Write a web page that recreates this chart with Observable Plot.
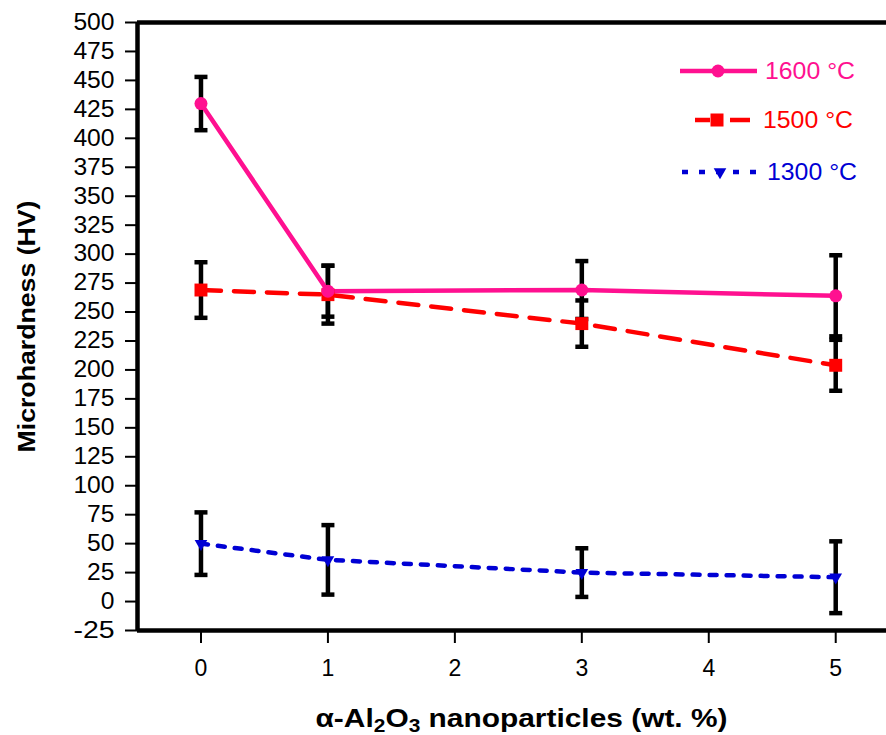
<!DOCTYPE html>
<html>
<head>
<meta charset="utf-8">
<script src="https://cdn.jsdelivr.net/npm/d3@7"></script>
<script src="https://cdn.jsdelivr.net/npm/@observablehq/plot@0.6"></script>
<style>
  body { margin: 0; background: #fff; }
  #chart svg { display: block; }
</style>
</head>
<body>
<div id="chart"></div>
<script>
// ---- data ----
const wtPercent = [0, 1, 3, 5];
const hv1600 = [430, 268, 269, 264];
const err1600 = [23, 22, 25, 35];
const hv1500 = [269, 265, 240, 204];
const err1500 = [24, 25, 20, 22];
const hv1300 = [50, 36, 25, 21];
const err1300 = [27, 30, 21, 31];
const seriesNames = ["1600 °C", "1500 °C", "1300 °C"];
const yTicks = [-25, 0, 25, 50, 75, 100, 125, 150, 175, 200, 225, 250, 275, 300, 325, 350, 375, 400, 425, 450, 475, 500];
const xTicks = [0, 1, 2, 3, 4, 5];
const yTitle = "Microhardness (HV)";
const xTitle = "α-Al2O3 nanoparticles (wt. %)";

// ---- styles ----
const colors = ["#ff1090", "#ff0000", "#0000d4"];
const dashes = [null, "20 13", "7 10"];
const font = "'Liberation Sans', Arial, Helvetica, sans-serif";

function rows(vals, errs, name) {
  return wtPercent.map((x, i) => ({x, y: vals[i], lo: vals[i] - errs[i], hi: vals[i] + errs[i], name}));
}
const s1600 = rows(hv1600, err1600, seriesNames[0]);
const s1500 = rows(hv1500, err1500, seriesNames[1]);
const s1300 = rows(hv1300, err1300, seriesNames[2]);
const all = [...s1600, ...s1500, ...s1300];

const capSymbol = {
  draw(context, size) {
    const r = Math.sqrt(size / Math.PI);
    context.moveTo(-r, 0);
    context.lineTo(r, 0);
  }
};

const plot = Plot.plot({
  width: 886,
  height: 735,
  marginLeft: 137,
  marginRight: 0,
  marginTop: 22,
  marginBottom: 105,
  style: {fontFamily: font, background: "#fff", overflow: "visible"},
  x: {domain: [-0.5, 5.4]},
  y: {domain: [-25, 500]},
  marks: [
    Plot.axisY({ticks: yTicks, tickFormat: d => String(d), tickSize: 12, tickPadding: 11, strokeWidth: 2, fontSize: 23, label: null, fill: "#000", className: "yaxis"}),
    Plot.axisX({ticks: xTicks, tickFormat: d => String(d), tickSize: 13, tickPadding: 16, strokeWidth: 2, fontSize: 23, label: null, fill: "#000"}),
    // error bars
    Plot.ruleX(all, {x: "x", y1: "lo", y2: "hi", stroke: "#000", strokeWidth: 4.5}),
    Plot.dot(all, {x: "x", y: "lo", symbol: capSymbol, r: 6.5, stroke: "#000", strokeWidth: 4.5}),
    Plot.dot(all, {x: "x", y: "hi", symbol: capSymbol, r: 6.5, stroke: "#000", strokeWidth: 4.5}),
    // series lines
    Plot.line(s1300, {x: "x", y: "y", stroke: colors[2], strokeWidth: 4.5, strokeDasharray: dashes[2]}),
    Plot.line(s1500, {x: "x", y: "y", stroke: colors[1], strokeWidth: 4.5, strokeDasharray: dashes[1]}),
    Plot.line(s1600, {x: "x", y: "y", stroke: colors[0], strokeWidth: 4.5}),
    // markers
    Plot.dot(s1300, {x: "x", y: "y", symbol: "triangle", rotate: 180, r: 4.7, fill: colors[2]}),
    Plot.dot(s1500, {x: "x", y: "y", symbol: "square", r: 7.3, fill: colors[1]}),
    Plot.dot(s1600, {x: "x", y: "y", symbol: "circle", r: 6.5, fill: colors[0]}),
    // frame lines
    Plot.ruleY([500, -25], {stroke: "#000", strokeWidth: 4.5}),
    Plot.ruleX([-0.5], {stroke: "#000", strokeWidth: 4.5}),
    // axis titles
    Plot.text([yTitle], {frameAnchor: "left", dx: -110, dy: 0, rotate: -90, textAnchor: "middle", fontSize: 24, fontWeight: "bold", fill: "#000", lineAnchor: "middle", className: "ytitle"}),
    Plot.text([xTitle], {frameAnchor: "bottom", dx: 9.5, dy: 88, textAnchor: "middle", fontSize: 25, fontWeight: "bold", fill: "#000", lineAnchor: "middle", className: "xtitle"})
  ]
});

const svg = d3.select(plot);

// y title length matching the reference
svg.selectAll(".ytitle text").attr("textLength", 252).attr("lengthAdjust", "spacingAndGlyphs");

// y tick labels slightly wider, as in the reference
svg.selectAll(".yaxis text").each(function() {
  const n = this.textContent.length;
  d3.select(this).attr("textLength", n * 13.7).attr("lengthAdjust", "spacingAndGlyphs");
});

// x title: subscripts and width matching the reference
svg.selectAll(".xtitle text").each(function() {
  const t = d3.select(this);
  t.text(null);
  const parts = [["α-Al", false], ["2", true], ["O", false], ["3", true], [" nanoparticles (wt. %)", false]];
  for (const [s, sub] of parts) {
    const sp = t.append("tspan").text(s);
    if (sub) sp.attr("font-size", "70%").attr("dy", "0.3em");
    else sp.attr("dy", sp.node().previousSibling ? "-0.21em" : null);
  }
  t.attr("textLength", 412).attr("lengthAdjust", "spacingAndGlyphs");
});

// legend inside the plot area (top right)
const legend = svg.append("g").attr("font-family", font).attr("font-size", 23).attr("text-anchor", "start");
const legendItems = [
  {name: seriesNames[0], color: colors[0], y: 71, x1: 680, x2: 757, mx: 718, tx: 765, dash: null, sym: "circle"},
  {name: seriesNames[1], color: colors[1], y: 120, x1: 695, x2: 750, mx: 717, tx: 763, dash: "15 20 20", sym: "square"},
  {name: seriesNames[2], color: colors[2], y: 172, x1: 682, x2: 757, mx: 720, tx: 767, dash: "6 11", sym: "tri"}
];
for (const it of legendItems) {
  const line = legend.append("line")
    .attr("x1", it.x1).attr("x2", it.x2).attr("y1", it.y).attr("y2", it.y)
    .attr("stroke", it.color).attr("stroke-width", 4.5);
  if (it.dash) line.attr("stroke-dasharray", it.dash);
  if (it.sym === "circle") {
    legend.append("circle").attr("cx", it.mx).attr("cy", it.y).attr("r", 6.5).attr("fill", it.color);
  } else if (it.sym === "square") {
    legend.append("rect").attr("x", it.mx - 6.5).attr("y", it.y - 6.5).attr("width", 13).attr("height", 13).attr("fill", it.color);
  } else {
    legend.append("path")
      .attr("d", d3.symbol(d3.symbolTriangle, Math.PI * 4.7 * 4.7)())
      .attr("transform", `translate(${it.mx},${it.y}) rotate(180)`)
      .attr("fill", it.color);
  }
  legend.append("text").attr("x", it.tx).attr("y", it.y).attr("dy", "0.35em")
    .attr("fill", it.color).attr("textLength", 90).attr("lengthAdjust", "spacingAndGlyphs").text(it.name);
}

document.getElementById("chart").appendChild(plot);
</script>
</body>
</html>
